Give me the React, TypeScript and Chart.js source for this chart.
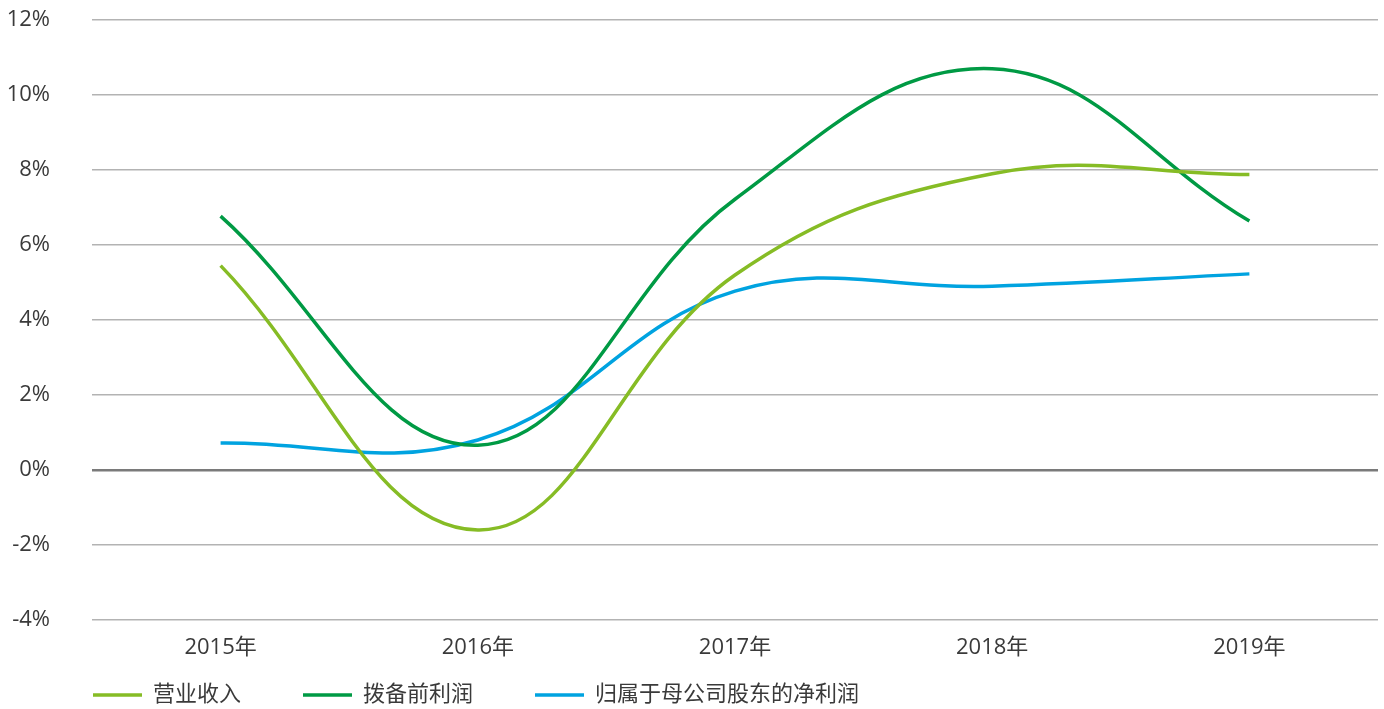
import React, { useEffect, useRef } from "react";
import { Chart, registerables } from "chart.js";

Chart.register(...registerables);

const categories = ["2015年", "2016年", "2017年", "2018年", "2019年"];
const revenue = [5.45, -1.6, 5.2, 7.9, 7.88];
const preProvisionProfit = [6.77, 0.66, 7.22, 10.7, 6.64];
const netProfitParent = [0.72, 0.8, 4.77, 4.9, 5.23];
const seriesLabels = ["营业收入", "拨备前利润", "归属于母公司股东的净利润"];
const seriesColors = ["#86bc25", "#009a44", "#00a3e0"];

const FONT = "'Open Sans', 'Noto Sans CJK SC', sans-serif";
const TEXT = "#3a3a3a";

const bottomLegend = {
  id: "bottomLegend",
  afterDraw(chart: any) {
    const ctx = chart.ctx;
    ctx.save();
    ctx.font = `22px ${FONT}`;
    ctx.textBaseline = "middle";
    ctx.textAlign = "left";
    let x = 93;
    const y = 695;
    chart.data.datasets.forEach((ds: any) => {
      ctx.strokeStyle = ds.borderColor;
      ctx.lineWidth = 3.5;
      ctx.beginPath();
      ctx.moveTo(x, y);
      ctx.lineTo(x + 49, y);
      ctx.stroke();
      x += 49 + 11;
      ctx.fillStyle = TEXT;
      ctx.fillText(ds.label, x, y);
      x += ctx.measureText(ds.label).width + 62;
    });
    ctx.restore();
  },
};

export default function App() {
  const ref = useRef<HTMLCanvasElement>(null);
  useEffect(() => {
    if (!ref.current) return;
    Chart.defaults.font.family = FONT;
    const values = [revenue, preProvisionProfit, netProfitParent];
    const chart = new Chart(ref.current, {
      type: "line",
      data: {
        labels: categories,
        datasets: values.map((d, i) => ({
          label: seriesLabels[i],
          data: d,
          borderColor: seriesColors[i],
          backgroundColor: seriesColors[i],
          borderWidth: 3.5,
          pointRadius: 0,
          tension: 0.4,
          fill: false,
        })),
      },
      options: {
        animation: false,
        responsive: true,
        maintainAspectRatio: false,
        layout: { padding: { top: 20, right: 6, left: 0, bottom: 51 } },
        plugins: {
          legend: { display: false },
          tooltip: { enabled: false },
        },
        scales: {
          x: {
            offset: true,
            afterFit: (s: any) => {
              s.height = 38;
            },
            grid: { display: false, drawTicks: false },
            border: { display: false },
            ticks: { color: TEXT, font: { size: 22, family: FONT }, padding: 15 },
          },
          y: {
            min: -4,
            max: 12,
            afterFit: (s: any) => {
              s.width = 92;
            },
            grid: {
              drawTicks: true,
              tickLength: 42,
              tickColor: "rgba(0,0,0,0)",
              color: (c: any) => (c.tick && c.tick.value === 0 ? "#7a7a7a" : "#b3b3b3"),
              lineWidth: (c: any) => (c.tick && c.tick.value === 0 ? 2.5 : 1.4),
            },
            border: { display: false },
            ticks: {
              stepSize: 2,
              padding: 0,
              color: TEXT,
              font: { size: 22, family: FONT },
              callback: (v: any) => `${v}%`,
            },
          },
        },
      },
      plugins: [bottomLegend],
    });
    return () => chart.destroy();
  }, []);
  return (
    <div style={{ position: "fixed", left: 0, top: 0, width: 1384, height: 709, background: "#fff" }}>
      <canvas ref={ref} />
    </div>
  );
}
